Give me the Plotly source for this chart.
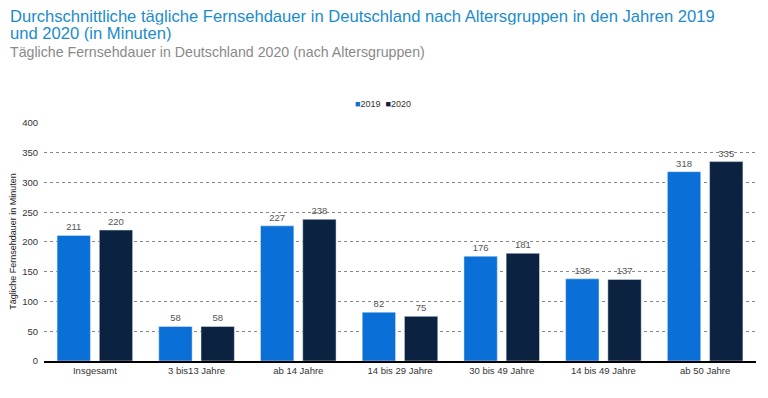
import plotly.graph_objects as go

categories = ["Insgesamt", "3 bis13 Jahre", "ab 14 Jahre", "14 bis 29 Jahre",
              "30 bis 49 Jahre", "14 bis 49 Jahre", "ab 50 Jahre"]
values_2019 = [211, 58, 227, 82, 176, 138, 318]
values_2020 = [220, 58, 238, 75, 181, 137, 335]
y_ticks = [0, 50, 100, 150, 200, 250, 300, 350, 400]

C2019 = "#0a6fd6"
C2020 = "#0b2340"
FONT = "Liberation Sans, Arial, sans-serif"

# figure is placed at an 8px body offset in the page
W, H = 760, 390
ML, MR, MT, MB = 36, 12, 114, 37
PW, PH = W - ML - MR, H - MT - MB


def py(fig_px):
    """paper y for a figure pixel row"""
    return 1 + (MT - fig_px) / PH


fig = go.Figure()
fig.add_trace(go.Bar(
    name="2019", x=categories, y=values_2019, marker_color=C2019,
    text=values_2019, textposition="outside",
    textfont=dict(size=9.5, color="#555555"), cliponaxis=False))
fig.add_trace(go.Bar(
    name="2020", x=categories, y=values_2020, marker_color=C2020,
    text=values_2020, textposition="outside",
    textfont=dict(size=9.5, color="#555555"), cliponaxis=False))

fig.update_layout(
    width=W, height=H,
    margin=dict(l=ML, r=MR, t=MT, b=MB, autoexpand=False),
    paper_bgcolor="white", plot_bgcolor="white",
    font=dict(family=FONT, size=9, color="#333333"),
    barmode="group", bargap=0.17, bargroupgap=0.21,
    showlegend=False,
    uniformtext=dict(minsize=8, mode="show"),
)
fig.update_yaxes(
    range=[0, 401.5], tickvals=y_ticks, showgrid=True,
    gridcolor="#888888", griddash="dot", gridwidth=1,
    zeroline=False, ticks="", tickfont=dict(size=9.5, color="#333333"),
    ticklabelstandoff=5,
    title=dict(text="Tägliche Fernsehdauer in Minuten",
               font=dict(size=9, color="#222222"), standoff=4))
fig.update_xaxes(
    showline=True, linecolor="#000000", linewidth=2, ticks="",
    tickfont=dict(size=9.5, color="#333333"))

title_lines = ["Durchschnittliche tägliche Fernsehdauer in Deutschland nach Altersgruppen in den Jahren 2019",
               "und 2020 (in Minuten)"]
for line, ypx in zip(title_lines, [8.5, 25.5]):
    fig.add_annotation(
        text=line, xref="paper", yref="paper", x=-ML / PW, y=py(ypx),
        xanchor="left", yanchor="middle", align="left", valign="middle",
        height=16.5, showarrow=False,
        font=dict(size=16.6, color="#1a8ccc", family=FONT))
fig.add_annotation(
    text="Tägliche Fernsehdauer in Deutschland 2020 (nach Altersgruppen)",
    xref="paper", yref="paper", x=-ML / PW, y=py(44),
    xanchor="left", yanchor="middle", align="left", valign="middle",
    height=16, showarrow=False,
    font=dict(size=14.2, color="#8a8a8a", family=FONT))
# legend
fig.add_annotation(
    text=f"<span style='color:{C2019}'>■</span>2019  <span style='color:{C2020}'>■</span>2020",
    xref="paper", yref="paper", x=(375 - ML) / PW, y=py(96),
    xanchor="center", yanchor="middle", showarrow=False,
    font=dict(size=9, color="#333333", family=FONT))

fig.write_html("out.html")
